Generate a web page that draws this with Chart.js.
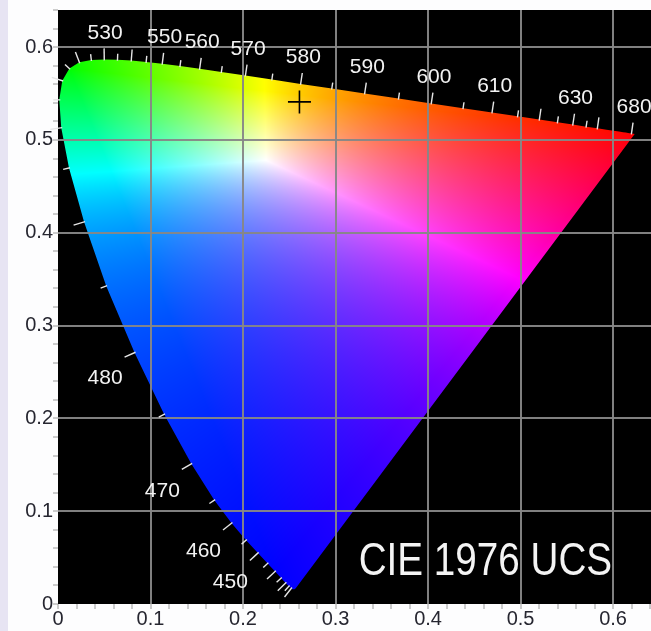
<!DOCTYPE html>
<html>
<head>
<meta charset="utf-8">
<title>CIE 1976 UCS</title>
<script src="https://cdn.jsdelivr.net/npm/chart.js@4.4.0/dist/chart.umd.min.js"></script>
<style>
  html, body { margin: 0; padding: 0; background: #fdfdfe; }
  #wrap {
    position: relative; width: 651px; height: 631px;
    background: linear-gradient(to right, #e7e4f3 0, #e7e4f3 8px, #fdfdfe 8px);
  }
  canvas { display: block; }
</style>
</head>
<body>
<div id="wrap"><canvas id="c" width="651" height="631"></canvas></div>
<script>
// Spectral locus, wavelength in nm with u' and v' chromaticity coordinates
const wavelengths = [380,385,390,395,400,405,410,415,420,425,430,435,440,445,450,455,460,465,470,475,
  480,485,490,495,500,505,510,515,520,525,530,535,540,545,550,555,560,565,570,575,
  580,585,590,595,600,605,610,615,620,625,630,635,640,645,650,655,660,665,670,675,
  680,685,690,695,700];
const locusU = [0.2568,0.2566,0.2564,0.2561,0.2557,0.2552,0.2545,0.2537,0.2522,0.2496,0.2461,0.2411,0.2347,0.2266,0.2161,0.2033,0.1877,0.1690,0.1441,0.1147,
  0.0828,0.0521,0.0282,0.0119,0.0035,0.0014,0.0046,0.0123,0.0231,0.0360,0.0500,0.0643,0.0792,0.0953,0.1127,0.1319,0.1531,0.1766,0.2026,0.2312,
  0.2623,0.2960,0.3315,0.3681,0.4035,0.4379,0.4692,0.4968,0.5203,0.5399,0.5565,0.5709,0.5830,0.5929,0.6005,0.6064,0.6109,0.6138,0.6162,0.6180,
  0.6199,0.6215,0.6226,0.6231,0.6234];
const locusV = [0.0166,0.0166,0.0163,0.0163,0.0159,0.0159,0.0159,0.0159,0.0169,0.0191,0.0226,0.0279,0.0350,0.0437,0.0549,0.0688,0.0871,0.1119,0.1510,0.2044,
  0.2708,0.3427,0.4117,0.4698,0.5131,0.5432,0.5638,0.5770,0.5837,0.5861,0.5868,0.5865,0.5856,0.5841,0.5821,0.5796,0.5766,0.5732,0.5694,0.5651,
  0.5604,0.5554,0.5501,0.5446,0.5393,0.5342,0.5296,0.5254,0.5219,0.5190,0.5165,0.5143,0.5125,0.5111,0.5099,0.5090,0.5084,0.5079,0.5076,0.5073,
  0.5070,0.5068,0.5066,0.5065,0.5065];

// Wavelengths that get a tick mark on the locus, and those that are labelled
const tickedWavelengths = [420,425,430,435,440,445,450,455,460,465,470,475,480,485,490,495,500,505,510,515,
  520,525,530,535,540,545,550,555,560,565,570,575,580,585,590,595,600,605,610,615,620,625,630,635,640,680];
const labelledWavelengths = [450,460,470,480,530,550,560,570,580,590,600,610,630,680];

// Marked chromaticity (u', v')
const markerU = [0.261];
const markerV = [0.541];

// Axis ranges and tick steps
const uRange = [0, 0.641];
const vRange = [0, 0.640];
const minorStep = 0.02;
const majorStep = 0.1;

const titleText = 'CIE 1976 UCS';

// Display primaries (x, y) and the white balance point (u', v') used to paint the gamut
const primaryR = [0.7347, 0.2653];
const primaryG = [0.0389, 0.8120];
const primaryB = [0.1644, 0.0109];
const whiteUV = [0.225, 0.478];

function xyzFromXY(x, y) { return [x / y, 1, (1 - x - y) / y]; }
function uvToXY(u, v) { const d = 6 * u - 16 * v + 12; return [9 * u / d, 4 * v / d]; }
function inv3(m) {
  const [a, b, c] = m[0], [d, e, f] = m[1], [g, h, i] = m[2];
  const A = e * i - f * h, B = -(d * i - f * g), C = d * h - e * g;
  const det = a * A + b * B + c * C;
  return [
    [A / det, -(b * i - c * h) / det, (b * f - c * e) / det],
    [B / det, (a * i - c * g) / det, -(a * f - c * d) / det],
    [C / det, -(a * h - b * g) / det, (a * e - b * d) / det]
  ];
}
function mul3(m, v) {
  return [m[0][0] * v[0] + m[0][1] * v[1] + m[0][2] * v[2],
          m[1][0] * v[0] + m[1][1] * v[1] + m[1][2] * v[2],
          m[2][0] * v[0] + m[2][1] * v[1] + m[2][2] * v[2]];
}
// XYZ -> RGB matrix for the primaries, balanced on the white point
const toRGB = (() => {
  const cols = [primaryR, primaryG, primaryB].map(p => xyzFromXY(p[0], p[1]));
  const P = [0, 1, 2].map(r => cols.map(c => c[r]));
  const wxy = uvToXY(whiteUV[0], whiteUV[1]);
  const S = mul3(inv3(P), xyzFromXY(wxy[0], wxy[1]));
  const M = P.map(row => row.map((val, k) => val * S[k]));
  return inv3(M);
})();

function chromaColor(u, v) {
  const d = 6 * u - 16 * v + 12;
  if (d <= 0) return [0, 0, 0];
  const x = 9 * u / d, y = 4 * v / d;
  if (y <= 1e-6) return [0, 0, 0];
  let [r, g, b] = mul3(toRGB, xyzFromXY(x, y));
  r = Math.max(r, 0); g = Math.max(g, 0); b = Math.max(b, 0);
  const m = Math.max(r, g, b) || 1;
  return [r / m, g / m, b / m].map(c => 255 * Math.pow(c, 0.85));
}

function isMajor(value) {
  const k = Math.round(value / minorStep);
  return k % Math.round(majorStep / minorStep) === 0;
}

// Black plot field and the colour-filled gamut under the grid
const gamutFill = {
  id: 'gamutFill',
  beforeDraw(chart) {
    const { ctx, chartArea: a, scales: { x, y } } = chart;
    ctx.save();
    ctx.fillStyle = '#000';
    ctx.fillRect(a.left, a.top, a.right - a.left, a.bottom - a.top);

    const w = Math.ceil(a.right - a.left), h = Math.ceil(a.bottom - a.top);
    const off = document.createElement('canvas');
    off.width = w; off.height = h;
    const octx = off.getContext('2d');
    const img = octx.createImageData(w, h);
    const px = img.data;
    const us = new Float64Array(w);
    for (let i = 0; i < w; i++) us[i] = x.getValueForPixel(a.left + i + 0.5);
    for (let j = 0; j < h; j++) {
      const v = y.getValueForPixel(a.top + j + 0.5);
      for (let i = 0; i < w; i++) {
        const c = chromaColor(us[i], v);
        const k = (j * w + i) * 4;
        px[k] = c[0]; px[k + 1] = c[1]; px[k + 2] = c[2]; px[k + 3] = 255;
      }
    }
    octx.putImageData(img, 0, 0);

    const pts = chart.getDatasetMeta(0).data;
    ctx.beginPath();
    pts.forEach((p, i) => (i ? ctx.lineTo(p.x, p.y) : ctx.moveTo(p.x, p.y)));
    ctx.closePath();
    ctx.clip();
    ctx.drawImage(off, a.left, a.top);
    ctx.restore();
  }
};

// Wavelength ticks and labels along the locus, plus the title
const locusMarks = {
  id: 'locusMarks',
  afterDatasetsDraw(chart) {
    const { ctx, scales: { x, y } } = chart;
    const pts = chart.getDatasetMeta(0).data;
    ctx.save();
    ctx.strokeStyle = '#e6e6e6';
    ctx.lineWidth = 1.4;
    ctx.fillStyle = '#f2f2f2';
    ctx.font = '21px "Liberation Sans", Arial, sans-serif';
    tickedWavelengths.forEach(wl => {
      const i = wavelengths.indexOf(wl);
      const p = pts[i];
      const a = pts[Math.max(i - 1, 0)], b = pts[Math.min(i + 1, pts.length - 1)];
      const tx = b.x - a.x, ty = b.y - a.y;
      const len = Math.hypot(tx, ty) || 1;
      const nx = ty / len, ny = -tx / len;
      const L = wl % 10 === 0 ? 11 : 6;
      const ex = p.x + nx * L, ey = p.y + ny * L;
      ctx.beginPath();
      ctx.moveTo(p.x - nx, p.y - ny);
      ctx.lineTo(ex, ey);
      ctx.stroke();
      if (labelledWavelengths.includes(wl)) {
        if (ny < -0.5) {
          ctx.textAlign = 'center'; ctx.textBaseline = 'bottom';
          ctx.fillText(String(wl), ex + 1, ey - 5);
        } else {
          ctx.textAlign = 'right'; ctx.textBaseline = 'top';
          ctx.fillText(String(wl), ex - 2, ey + 11);
        }
      }
    });

    // title, set in a condensed face
    const tx = x.getPixelForValue(0.462), ty = y.getPixelForValue(0.031);
    ctx.translate(tx, ty);
    ctx.scale(0.84, 1);
    ctx.font = '46px "Liberation Sans", Arial, sans-serif';
    ctx.textAlign = 'center';
    ctx.textBaseline = 'alphabetic';
    ctx.fillStyle = '#f4f4f4';
    ctx.fillText(titleText, 0, 0);
    ctx.restore();
  }
};

const gridColor = ctx => {
  const t = ctx.tick;
  if (!t) return 'transparent';
  return (isMajor(t.value) && Math.round(t.value / minorStep) !== 0) ? 'rgba(135,135,135,0.95)' : 'transparent';
};
const tickLabel = value => (isMajor(value) ? String(Math.round(value / majorStep) / 10 * (majorStep * 10)) : '');

const noPadding = scale => {
  scale.paddingLeft = 0; scale.paddingRight = 0;
  scale.paddingTop = 0; scale.paddingBottom = 0;
};

new Chart(document.getElementById('c'), {
  type: 'scatter',
  data: {
    datasets: [
      {
        label: 'spectral locus',
        data: wavelengths.map((wl, i) => ({ x: locusU[i], y: locusV[i] })),
        showLine: false,
        pointRadius: 0,
        pointHoverRadius: 0
      },
      {
        label: 'marker',
        data: markerU.map((u, i) => ({ x: u, y: markerV[i] })),
        pointStyle: 'cross',
        pointRadius: 11.5,
        borderColor: '#000',
        borderWidth: 1.6,
        backgroundColor: '#000'
      }
    ]
  },
  options: {
    responsive: false,
    animation: false,
    events: [],
    layout: { autoPadding: false, padding: { top: 10, left: 0, right: 0, bottom: 0 } },
    plugins: { legend: { display: false }, tooltip: { enabled: false } },
    scales: {
      x: {
        type: 'linear',
        min: uRange[0], max: uRange[1],
        border: { display: false },
        grid: { color: gridColor, lineWidth: 2, tickColor: '#9a9a9a', tickLength: 5, tickWidth: 1 },
        ticks: {
          stepSize: minorStep, includeBounds: false, autoSkip: false, maxRotation: 0,
          padding: 0, color: '#262630',
          font: { family: '"Liberation Sans", Arial, sans-serif', size: 20, lineHeight: 1 },
          callback: tickLabel
        },
        afterFit(scale) { scale.height = 27; noPadding(scale); }
      },
      y: {
        type: 'linear',
        min: vRange[0], max: vRange[1],
        border: { display: false },
        grid: { color: gridColor, lineWidth: 2, tickColor: '#9a9a9a', tickLength: 5, tickWidth: 1 },
        ticks: {
          stepSize: minorStep, includeBounds: false, autoSkip: false,
          padding: 0, color: '#262630',
          font: { family: '"Liberation Sans", Arial, sans-serif', size: 20, lineHeight: 1 },
          callback: tickLabel
        },
        afterFit(scale) { scale.width = 58; noPadding(scale); }
      }
    }
  },
  plugins: [gamutFill, locusMarks]
});
</script>
</body>
</html>
